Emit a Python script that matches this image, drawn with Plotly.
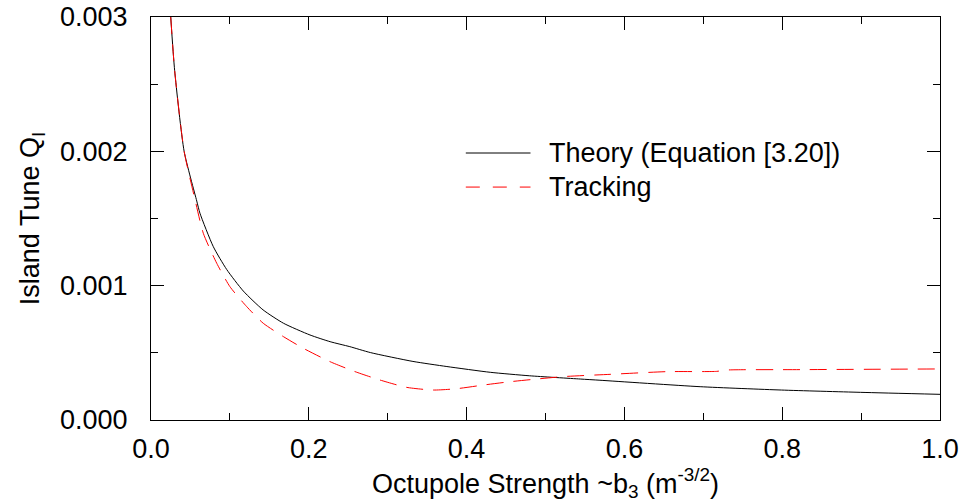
import plotly.graph_objects as go

# Theory (Equation [3.20])
theory_x = [0.025, 0.030, 0.042, 0.058, 0.062, 0.079, 0.096, 0.117, 0.142, 0.168,
            0.2015, 0.227, 0.252, 0.278, 0.332, 0.375, 0.43, 0.48, 0.544, 0.569,
            0.696, 0.799, 0.899, 1.0]
theory_y = [0.003, 0.0026, 0.0020, 0.00163, 0.00154, 0.00129, 0.00112, 0.00096,
            0.00082, 0.00072, 0.000633, 0.000583, 0.000546, 0.000502, 0.000436,
            0.000398, 0.000355, 0.000329, 0.000305, 0.000296, 0.000248, 0.000223,
            0.000206, 0.000191]

# Tracking
track_x = [0.025, 0.030, 0.042, 0.0558, 0.0663, 0.0833, 0.1, 0.1213, 0.1423, 0.168,
           0.193, 0.227, 0.2586, 0.29, 0.324, 0.358, 0.3875, 0.421, 0.455, 0.489,
           0.5225, 0.582, 0.6536, 0.717, 0.7296, 0.8226, 1.0]
track_y = [0.003, 0.0026, 0.0020, 0.00164, 0.00139, 0.001167, 0.000993, 0.000844,
           0.00072, 0.00062, 0.000534, 0.000434, 0.00036, 0.000298, 0.000243,
           0.000223, 0.000233, 0.00026, 0.000285, 0.000305, 0.000323, 0.00034,
           0.00036, 0.000362, 0.000372, 0.000375, 0.00038]

series_names = ["Theory (Equation [3.20])", "Tracking"]
x_title = "Octupole Strength ~b<sub>3</sub> (m<sup>-3/2</sup>)"
y_title = "Island Tune Q<sub>I</sub>"

FONT = "Liberation Sans, Arial, sans-serif"
FS = 27

fig = go.Figure()
fig.add_trace(go.Scatter(x=theory_x, y=theory_y, mode="lines",
                         line=dict(color="black", width=1, shape="spline", smoothing=0.6),
                         showlegend=False, name=series_names[0]))
fig.add_trace(go.Scatter(x=track_x, y=track_y, mode="lines",
                         line=dict(color="#ff0000", width=1, dash="17px,10px",
                                   shape="spline", smoothing=0.6),
                         showlegend=False, name=series_names[1]))

# manual legend (paper coordinates)
legend_rows = [(0.6625, "black", "solid"), (0.578, "#ff0000", "14px,13px")]
for (yy, col, dsh), name in zip(legend_rows, series_names):
    fig.add_shape(type="line", xref="paper", yref="paper", x0=0.399, x1=0.481,
                  y0=yy, y1=yy, line=dict(color=col, width=1, dash=dsh))
    fig.add_annotation(xref="paper", yref="paper", x=0.502, y=yy, text=name,
                       showarrow=False, xanchor="left", yanchor="middle",
                       font=dict(family=FONT, size=FS, color="black"))

axis_common = dict(showline=True, linecolor="black", linewidth=1, mirror="ticks",
                   ticks="inside", ticklen=13, tickwidth=1, tickcolor="black",
                   showgrid=False, zeroline=False, automargin=False,
                   tickfont=dict(family=FONT, size=FS, color="black"))

fig.update_xaxes(range=[0, 1.0], dtick=0.2, tickformat=".1f",
                 minor=dict(ticks="inside", ticklen=7, dtick=0.1, tickcolor="black", showgrid=False),
                 title=dict(text=x_title, font=dict(family=FONT, size=FS, color="black"), standoff=6),
                 ticklabelstandoff=5,
                 **axis_common)
fig.update_yaxes(range=[0, 0.003], dtick=0.001, tickformat=".3f",
                 minor=dict(ticks="inside", ticklen=7, dtick=0.0005, tickcolor="black", showgrid=False),
                 title=dict(text=y_title, font=dict(family=FONT, size=FS, color="black"), standoff=12),
                 ticklabelstandoff=17,
                 **axis_common)

fig.update_layout(width=964, height=503, margin=dict(l=151, r=24, t=17, b=83),
                  plot_bgcolor="white", paper_bgcolor="white",
                  font=dict(family=FONT, size=FS, color="black"))

fig.write_html("out.html")
